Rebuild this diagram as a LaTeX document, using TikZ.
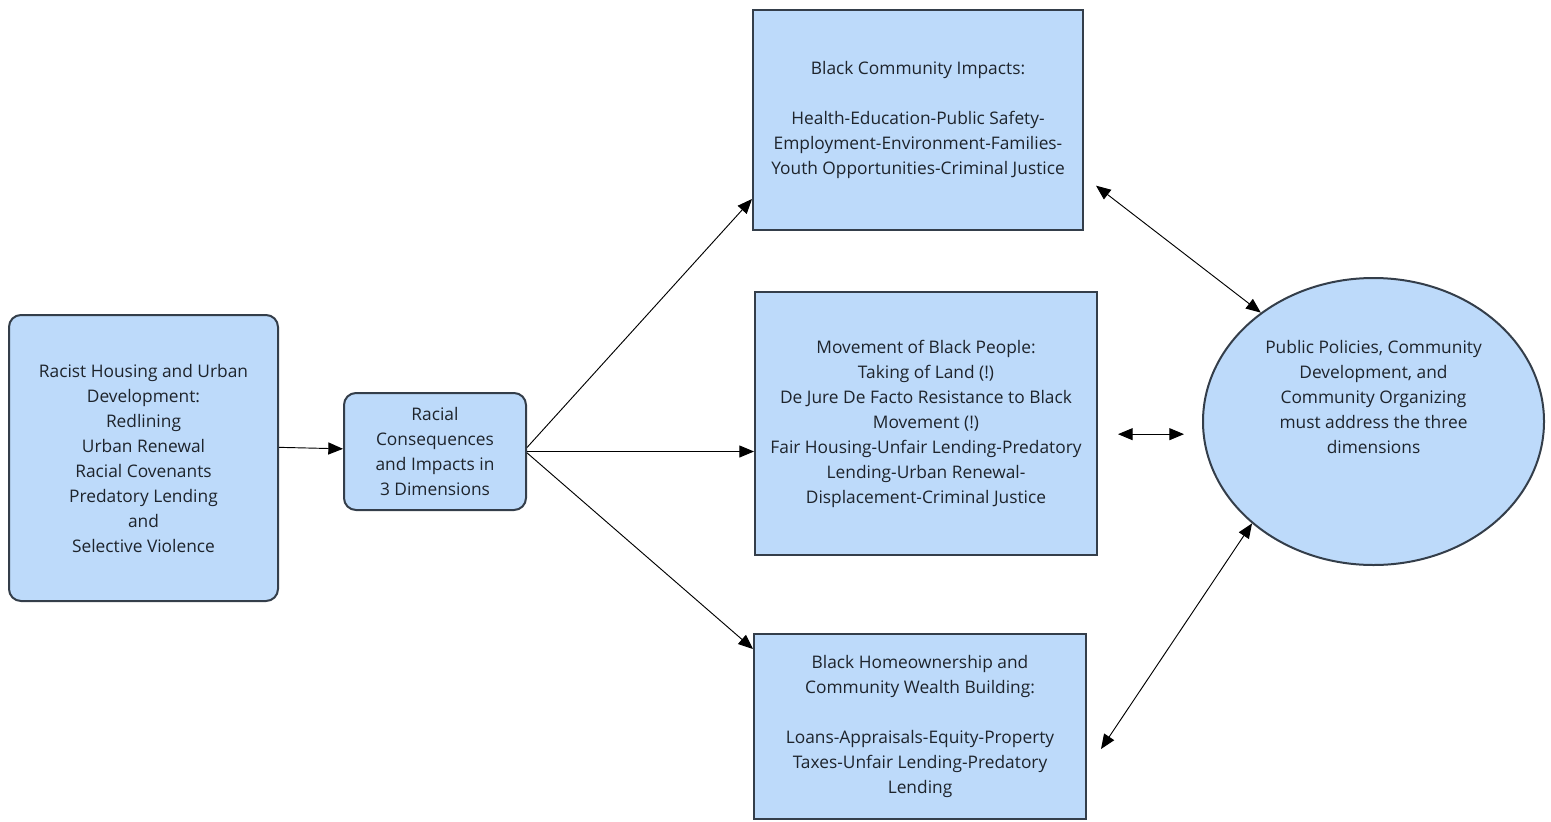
\documentclass[tikz,border=0pt]{standalone}
\usepackage{fontspec}
\setmainfont{Open Sans}
\usetikzlibrary{arrows.meta,shapes.geometric}
\definecolor{boxfill}{RGB}{189,218,250}
\definecolor{boxline}{RGB}{52,62,74}
\definecolor{boxtext}{RGB}{30,36,44}
\tikzset{
  panel/.style={draw=boxline, fill=boxfill, line width=1.5pt, align=center,
    text=boxtext, inner sep=0pt, font=\fontsize{13}{18.75}\selectfont},
  roundpanel/.style={panel, rounded corners=9pt},
  link/.style={-{Triangle[length=11pt,width=9pt]}, line width=0.7pt},
  bilink/.style={{Triangle[length=11pt,width=9pt]}-{Triangle[length=11pt,width=9pt]}, line width=0.7pt}
}
\begin{document}
\begin{tikzpicture}[x=0.75pt, y=-0.75pt]
  \useasboundingbox (0,0) rectangle (1551,821);
  % left side
  \node [roundpanel, minimum width=201.75pt, minimum height=214.5pt] (housing) at (143.5,458)
    {Racist Housing and Urban\\Development:\\Redlining\\Urban Renewal\\Racial Covenants\\Predatory Lending\\and\\Selective Violence};
  \node [roundpanel, minimum width=136.5pt, minimum height=87.75pt] (conseq) at (435,451.5)
    {Racial\\Consequences\\and Impacts in\\3 Dimensions};
  % the three dimensions
  \node [panel, minimum width=247.5pt, minimum height=165pt] (impacts) at (918,120)
    {Black Community Impacts:\\[18.75pt]Health-Education-Public Safety-\\Employment-Environment-Families-\\Youth Opportunities-Criminal Justice};
  \node [panel, minimum width=256.5pt, minimum height=197.25pt] (movement) at (926,423.5)
    {Movement of Black People:\\Taking of Land (!)\\De Jure De Facto Resistance to Black\\Movement (!)\\Fair Housing-Unfair Lending-Predatory\\Lending-Urban Renewal-\\Displacement-Criminal Justice};
  \node [panel, minimum width=249pt, minimum height=138.75pt] (wealth) at (920,726.5)
    {Black Homeownership and\\Community Wealth Building:\\[18.75pt]Loans-Appraisals-Equity-Property\\Taxes-Unfair Lending-Predatory\\Lending};
  % right side
  \node [panel, ellipse, minimum width=255.75pt, minimum height=215.25pt] (policy) at (1373.5,421.5) {};
  \node [align=center, text=boxtext, font=\fontsize{13}{18.75}\selectfont] (policytext) at (1373.5,396.5)
    {Public Policies, Community\\Development, and\\Community Organizing\\must address the three\\dimensions};

  \draw [link] ([yshift=8pt]housing.east) -- ([yshift=2pt]conseq.west);
  \draw [link] ([yshift=3pt]conseq.east) -- ([yshift=24pt]impacts.south west);
  \draw [link] (conseq.east) -- (conseq.east -| movement.west);
  \draw [link] ([yshift=-1pt]conseq.east) -- ([yshift=-12pt]wealth.north west);

  \draw [bilink] ([xshift=9pt,yshift=34pt]impacts.south east) -- (policy.136);
  \coordinate (gapL) at ([xshift=15pt,yshift=-8pt]movement.east);
  \coordinate (gapR) at ([xshift=-13.5pt]policy.west);
  \draw [bilink] (gapL) -- (gapL -| gapR);
  \draw [bilink] ([xshift=10.5pt,yshift=-87pt]wealth.north east) -- (policy.220);
\end{tikzpicture}
\end{document}
